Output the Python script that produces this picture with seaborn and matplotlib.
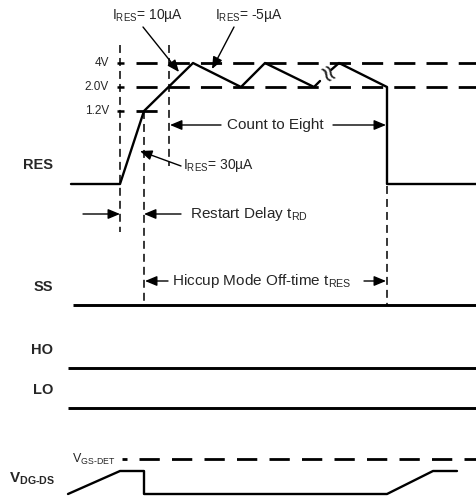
"""Hiccup mode timing diagram (RES / SS / HO / LO / VDG-DS)."""

import matplotlib
matplotlib.use("Agg")
import matplotlib.pyplot as plt
import pandas as pd
import seaborn as sns

# canvas units: x = time axis (px), y = vertical position (px, top down)
W, H = 477, 497

# RES waveform, split by the break mark
RES_A_X = [71, 120, 144, 193, 241, 265, 314, 320]
RES_A_Y = [184, 184, 111, 63, 87, 63, 87, 81]
RES_B_X = [331, 339, 387, 387, 477]
RES_B_Y = [70, 63, 87, 184, 184]

# VDG-DS waveform
VDG_X = [68, 120, 144, 144, 387, 433, 457]
VDG_Y = [494, 471, 471, 494, 494, 471, 471]

# RES threshold levels
LEVEL_LABELS = ["4V", "2.0V", "1.2V"]
LEVEL_Y = [63, 87, 111]
LEVEL_END = [477, 477, 159]

# flat signals
SIGNAL_NAMES = ["SS", "HO", "LO"]
SIGNAL_Y = [305, 368, 408]
SIGNAL_X0 = [73, 68, 68]
SIGNAL_LABEL_Y = [287, 350, 390]

# vertical timing markers: x, y top, y bottom
MARK_X = [120, 144, 169, 387]
MARK_TOP = [45, 111, 45, 186]
MARK_BOT = [232, 305, 166, 305]

VGS_DET_Y = 459

sns.set_theme(style="white")
plt.rcParams["font.family"] = ["Liberation Sans", "DejaVu Sans"]
plt.rcParams["mathtext.fontset"] = "custom"
plt.rcParams["mathtext.rm"] = "Liberation Sans"
plt.rcParams["mathtext.bf"] = "Liberation Sans:bold"

fig = plt.figure(figsize=(W / 100, H / 100), dpi=100)
ax = fig.add_axes([0, 0, 1, 1])

wave = dict(color="black", lw=1.7, sort=False, estimator=None, ax=ax, legend=False)
for xs, ys in [(RES_A_X, RES_A_Y), (RES_B_X, RES_B_Y), (VDG_X, VDG_Y)]:
    sns.lineplot(data=pd.DataFrame({"t": xs, "v": ys}), x="t", y="v", **wave)

# break mark on RES
ax.text(325.5, 75.5, "≈", fontsize=17, rotation=-60, ha="center", va="center",
        family="DejaVu Sans")

# threshold levels
long_dash = (0, (7.6, 4.0))
for lab, y, x1 in zip(LEVEL_LABELS, LEVEL_Y, LEVEL_END):
    ax.plot([117, 124], [y, y], color="black", lw=1.8, solid_capstyle="butt")
    ax.plot([136, x1], [y, y], color="black", lw=2.0, linestyle=long_dash)
    ax.text(109, y, lab, fontsize=8.5, ha="right", va="center")

# flat signals
for name, y, x0, ly in zip(SIGNAL_NAMES, SIGNAL_Y, SIGNAL_X0, SIGNAL_LABEL_Y):
    ax.plot([x0, W], [y, y], color="black", lw=2.1, solid_capstyle="butt")
    ax.text(53, ly, name, fontsize=10.5, fontweight="bold", ha="right", va="center")

ax.text(53, 165, "RES", fontsize=10.5, fontweight="bold", ha="right", va="center")
ax.text(55, 479, r"V$_{\mathbf{DG‐DS}}$", fontsize=11, fontweight="bold",
        ha="right", va="center")

# VGS-DET threshold
ax.plot([122, 127], [VGS_DET_Y, VGS_DET_Y], color="black", lw=2.0, solid_capstyle="butt")
ax.plot([139, W], [VGS_DET_Y, VGS_DET_Y], color="black", lw=2.0,
        linestyle=(0, (7.3, 4.4)))
ax.text(115, VGS_DET_Y, r"V$_{\mathrm{GS‐DET}}$", fontsize=9, ha="right", va="center")

# vertical markers
for x, y0, y1 in zip(MARK_X, MARK_TOP, MARK_BOT):
    ax.plot([x, x], [y0, y1], color="black", lw=1.1, linestyle=(0, (5.2, 3.3)))


def arrow(x0, y0, x1, y1):
    ax.annotate("", xy=(x1, y1), xytext=(x0, y0),
                arrowprops=dict(arrowstyle="-|>,head_length=0.6,head_width=0.25",
                                mutation_scale=12, lw=1.0, color="black",
                                shrinkA=0, shrinkB=0))


# current annotations
ax.text(147, 15, r"I$_{\mathrm{RES}}$= 10µA", fontsize=10, ha="center", va="center")
arrow(143, 27, 179, 72)
ax.text(249, 15, r"I$_{\mathrm{RES}}$= -5µA", fontsize=10, ha="center", va="center")
arrow(234, 27, 212, 69)
ax.text(183, 165, r"I$_{\mathrm{RES}}$= 30µA", fontsize=10, ha="left", va="center")
arrow(181, 166, 140, 151)

# interval annotations
ax.text(227, 125, "Count to Eight", fontsize=11, ha="left", va="center")
arrow(221, 125, 170, 125)
arrow(333, 125, 386, 125)

ax.text(190, 214, r"Restart Delay t$_{\mathrm{RD}}$", fontsize=11, ha="left", va="center")
arrow(83, 214, 120, 214)
arrow(181, 214, 144, 214)

ax.text(172, 281, r"Hiccup Mode Off-time t$_{\mathrm{RES}}$", fontsize=11,
        ha="left", va="center")
arrow(168, 281, 145, 281)
arrow(364, 281, 386, 281)

ax.set_xlim(0, W)
ax.set_ylim(H, 0)
ax.axis("off")

fig.savefig("out.png", dpi=100)
plt.close(fig)
